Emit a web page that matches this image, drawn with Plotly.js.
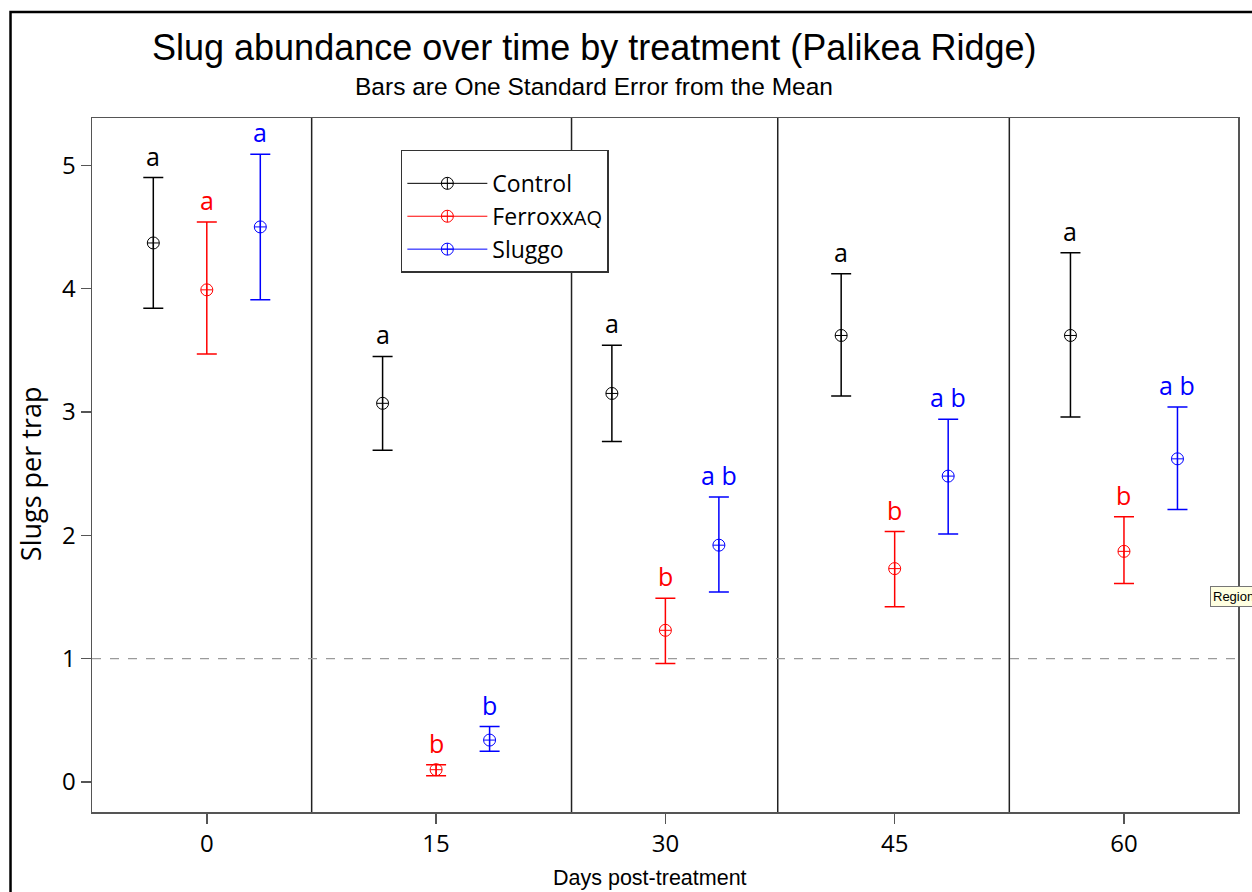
<!DOCTYPE html>
<html>
<head>
<meta charset="utf-8">
<script src="https://cdn.plot.ly/plotly-3.0.1.min.js"></script>
<style>html,body{margin:0;padding:0;background:#fff;}#chart{width:1252px;height:892px;}</style>
</head>
<body>
<div id="chart"></div>
<script>
// ---- data ----
const days = [0, 15, 30, 45, 60];
const seriesNames = ['Control', 'FerroxxAQ', 'Sluggo'];

const controlMean  = [4.37, 3.07, 3.15, 3.62, 3.62];
const controlUpper = [4.90, 3.45, 3.54, 4.12, 4.29];
const controlLower = [3.84, 2.69, 2.76, 3.13, 2.96];

const ferroxxMean  = [3.99, 0.10, 1.23, 1.73, 1.87];
const ferroxxUpper = [4.54, 0.14, 1.49, 2.03, 2.15];
const ferroxxLower = [3.47, 0.05, 0.96, 1.42, 1.61];

const sluggoMean   = [4.50, 0.34, 1.92, 2.48, 2.62];
const sluggoUpper  = [5.09, 0.45, 2.31, 2.94, 3.04];
const sluggoLower  = [3.91, 0.25, 1.54, 2.01, 2.21];

const controlLetters = ['a', 'a', 'a', 'a', 'a'];
const ferroxxLetters = ['a', 'b', 'b', 'b', 'b'];
const sluggoLetters  = ['a', 'b', 'a b', 'a b', 'a b'];

const dividerDays = [6.86, 23.86, 37.35, 52.5];
const referenceLevel = 1;

// ---- styling / layout ----
const colors = ['#000000', '#ff0000', '#0000ff'];
const offsets = [-3.5, 0, 3.5];
const means = [controlMean, ferroxxMean, sluggoMean];
const uppers = [controlUpper, ferroxxUpper, sluggoUpper];
const lowers = [controlLower, ferroxxLower, sluggoLower];
const letters = [controlLetters, ferroxxLetters, sluggoLetters];
const legendLabels = ['Control', 'Ferroxx<span style="font-size:20px">AQ</span>', 'Sluggo'];
const tickFont = 'Open Sans, Noto Sans, sans-serif';
const titleFont = 'Liberation Sans, Arial, sans-serif';

const traces = [];
const annotations = [];
for (let s = 0; s < 3; s++) {
  const xs = days.map(d => d + offsets[s]);
  traces.push({
    type: 'scatter', mode: 'markers', x: xs, y: means[s],
    showlegend: false, hoverinfo: 'x+y',
    marker: {symbol: 'circle-cross-open', size: 12, color: colors[s], line: {width: 1, color: colors[s]}},
    error_y: {type: 'data', symmetric: false,
      array: uppers[s].map((u, i) => u - means[s][i]),
      arrayminus: means[s].map((m, i) => m - lowers[s][i]),
      color: colors[s], thickness: 1.5, width: 10}
  });
  // legend-only trace (line + marker symbol)
  traces.push({
    type: 'scatter', mode: 'lines+markers', x: [null], y: [null], name: legendLabels[s],
    line: {color: colors[s], width: 1},
    marker: {symbol: 'circle-cross-open', size: 12, color: colors[s], line: {width: 1, color: colors[s]}}
  });
  xs.forEach((x, i) => {
    annotations.push({
      x: x, y: uppers[s][i], xref: 'x', yref: 'y', text: letters[s][i], showarrow: false,
      yanchor: 'bottom', xanchor: 'center', yshift: 3,
      font: {family: tickFont, size: 25, color: colors[s]}
    });
  });
}

annotations.push({
  xref: 'paper', yref: 'paper', x: 0.4378, y: 1.1009, yanchor: 'middle', xanchor: 'center', showarrow: false,
  text: 'Slug abundance over time by treatment (Palikea Ridge)', font: {family: titleFont, size: 36, color: '#000'}
});
annotations.push({
  xref: 'paper', yref: 'paper', x: 0.4378, y: 1.0461, yanchor: 'middle', xanchor: 'center', showarrow: false,
  text: 'Bars are One Standard Error from the Mean', font: {family: titleFont, size: 24.5, color: '#000'}
});
annotations.push({
  xref: 'paper', yref: 'paper', x: -0.0540, y: 0.487, yanchor: 'middle', xanchor: 'center', showarrow: false,
  textangle: -90, text: 'Slugs per trap', font: {family: tickFont, size: 27, color: '#000'}
});
annotations.push({
  xref: 'paper', yref: 'paper', x: 0.4867, y: -0.0951, yanchor: 'middle', xanchor: 'center', showarrow: false,
  text: 'Days post-treatment', font: {family: titleFont, size: 21.5, color: '#000'}
});
annotations.push({
  xref: 'paper', yref: 'paper', x: 0.9759, y: 0.3098, yanchor: 'middle', xanchor: 'left', showarrow: false,
  text: 'Region', bgcolor: '#ffffe1', bordercolor: '#767676', borderwidth: 1, borderpad: 2,
  font: {family: 'Liberation Sans, Arial, sans-serif', size: 13, color: '#000'}
});

const shapes = dividerDays.map(d => ({
  type: 'line', xref: 'x', yref: 'paper', x0: d, x1: d, y0: 0, y1: 1,
  line: {color: '#222', width: 1.5}
}));
shapes.push({
  type: 'line', xref: 'paper', yref: 'y', x0: 0, x1: 1, y0: referenceLevel, y1: referenceLevel,
  line: {color: '#9a9a9a', width: 1.2, dash: 'dash'}
});
shapes.push({
  type: 'rect', xref: 'paper', yref: 'paper', x0: -0.0711, x1: 1.2, y0: -0.3, y1: 1.1527,
  line: {color: '#000', width: 2.5}, fillcolor: 'rgba(0,0,0,0)', layer: 'below'
});

const layout = {
  width: 1252, height: 892,
  margin: {l: 92, r: 13.5, t: 118, b: 80, pad: 0},
  paper_bgcolor: '#ffffff', plot_bgcolor: '#ffffff',
  showlegend: true,
  legend: {
    x: 0.2695, y: 0.9539, xanchor: 'left', yanchor: 'top',
    bordercolor: '#333', borderwidth: 1.5, bgcolor: '#fff',
    font: {family: tickFont, size: 23, color: '#000'},
    title: {text: '\u00a0', font: {size: 8}},
    itemwidth: 80, tracegroupgap: 0, entrywidth: 130, entrywidthmode: 'pixels'
  },
  xaxis: {
    range: [-7.51, 67.46], tickvals: days, ticktext: days.map(String),
    showgrid: false, zeroline: false,
    showline: true, mirror: true, linecolor: '#555', linewidth: 1.5,
    ticks: 'outside', ticklen: 10, tickcolor: '#555', tickwidth: 1.5,
    tickfont: {family: tickFont, size: 24, color: '#000'}
  },
  yaxis: {
    range: [-0.243, 5.383], tickvals: [0, 1, 2, 3, 4, 5],
    showgrid: false, zeroline: false,
    showline: true, mirror: true, linecolor: '#555', linewidth: 1.5,
    ticks: 'outside', ticklen: 10, tickcolor: '#555', tickwidth: 1.5,
    tickfont: {family: tickFont, size: 24, color: '#000'}
  },
  annotations: annotations,
  shapes: shapes
};

Plotly.newPlot('chart', traces, layout, {displayModeBar: false, staticPlot: true});
</script>
</body>
</html>
